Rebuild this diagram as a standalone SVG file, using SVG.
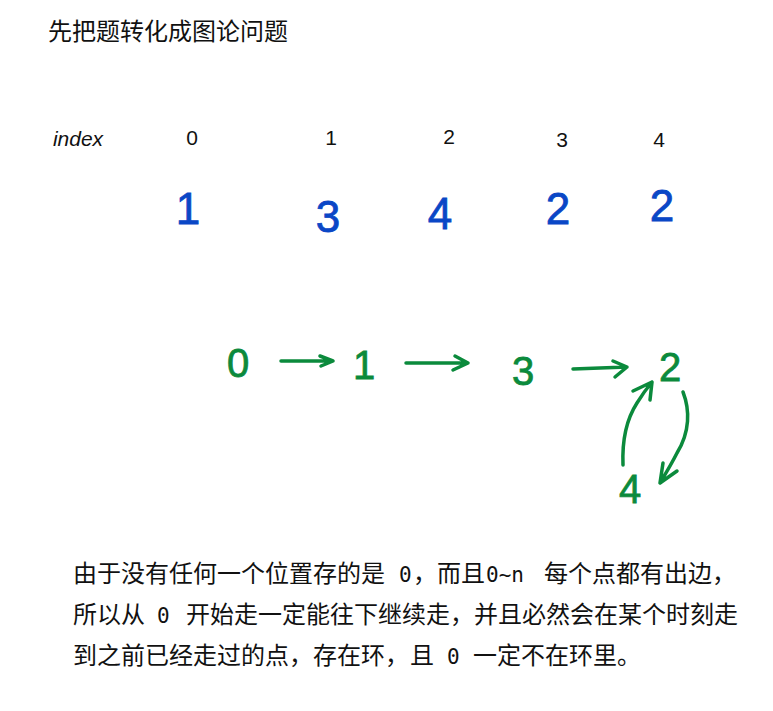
<svg xmlns="http://www.w3.org/2000/svg" width="773" height="711" viewBox="0 0 773 711">
<style>
.cn{font-family:"Noto Sans CJK SC","Noto Sans",sans-serif;font-size:24px;fill:#111}
.mono{font-family:"DejaVu Sans Mono","Liberation Mono",monospace;font-size:21px;fill:#111}
.idx{font-family:"Liberation Sans",sans-serif;font-size:21px;fill:#111;text-anchor:middle}
.blue{font-family:"Liberation Sans",sans-serif;font-size:44px;fill:#0a47c6;stroke:#0a47c6;stroke-width:0.8;text-anchor:middle}
.green{font-family:"Liberation Sans",sans-serif;font-size:40px;fill:#0b8a3c;stroke:#0b8a3c;stroke-width:0.8;text-anchor:middle}
.edge{fill:none;stroke:#0b8a3c;stroke-width:3.5;stroke-linecap:round;stroke-linejoin:round}
</style>
<rect width="773" height="711" fill="#fff"/>
<text class="cn" x="48" y="40">先把题转化成图论问题</text>

<g id="index-row">
<text class="idx" x="78" y="146" font-style="italic">index</text>
<text class="idx" x="192" y="145">0</text>
<text class="idx" x="331" y="145">1</text>
<text class="idx" x="449" y="144">2</text>
<text class="idx" x="562" y="147">3</text>
<text class="idx" x="659" y="147">4</text>
</g>
<g id="value-row">
<text class="blue" x="188" y="224">1</text>
<text class="blue" x="328" y="232">3</text>
<text class="blue" x="440" y="229">4</text>
<text class="blue" x="558" y="224">2</text>
<text class="blue" x="662" y="221">2</text>
</g>

<g id="n0"><text class="green" x="238" y="377">0</text></g>
<g id="n1"><text class="green" x="364" y="379">1</text></g>
<g id="n3"><text class="green" x="523" y="385">3</text></g>
<g id="n2"><text class="green" x="670" y="381">2</text></g>
<g id="n4"><text class="green" x="630" y="503">4</text></g>

<g id="connectors">
<path class="edge" d="M281 361 L333 361 M320 356 L333 361 L321 366"/>
<path class="edge" d="M406 363 L468 363 M455 356 L468 363 L453 370"/>
<path class="edge" d="M573 369 L627 367 M613 361 L627 367 L615 377"/>
<path class="edge" d="M623 465 C622 440 626 420 637 403 C642 395 647 388 652 382 M633 391 L652 382 L650 400"/>
<path class="edge" d="M683 392 C690 410 690 432 677 453 C672 463 666 473 660 483 M663 463 L660 483 L677 471"/>
</g>

<g id="explanation">
<text class="cn" x="73" y="582">由于没有任何一个位置存的是</text>
<text class="mono" x="399" y="582">0</text>
<text class="cn" x="413" y="582">，而且</text>
<text class="mono" x="486" y="582">0~n</text>
<text class="cn" x="544" y="582">每个点都有出边，</text>

<text class="cn" x="73" y="623">所以从</text>
<text class="mono" x="157" y="623">0</text>
<text class="cn" x="186" y="623">开始走一定能往下继续走，并且必然会在某个时刻走</text>

<text class="cn" x="73" y="664">到之前已经走过的点，存在环，</text>
<text class="cn" x="410" y="664">且</text>
<text class="mono" x="447" y="664">0</text>
<text class="cn" x="473" y="664">一定不在环里。</text>
</g>
</svg>
